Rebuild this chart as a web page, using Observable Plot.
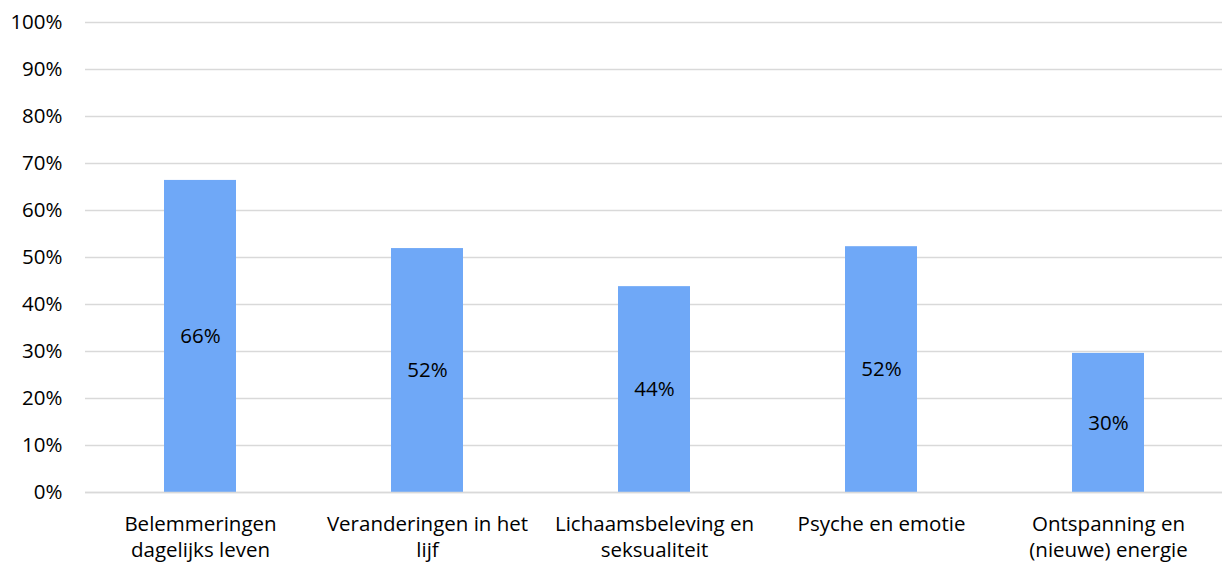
<!DOCTYPE html>
<html>
<head>
<meta charset="utf-8">
<script src="https://cdn.jsdelivr.net/npm/d3@7"></script>
<script src="https://cdn.jsdelivr.net/npm/@observablehq/plot@0.6"></script>
<style>
  html, body { margin: 0; padding: 0; background: #fff; }
  #chart svg { display: block; }
</style>
</head>
<body>
<div id="chart"></div>
<script>
const categories = [
  "Belemmeringen\ndagelijks leven",
  "Veranderingen in het\nlijf",
  "Lichaamsbeleving en\nseksualiteit",
  "Psyche en emotie",
  "Ontspanning en\n(nieuwe) energie"
];
const values = [0.664, 0.519, 0.438, 0.523, 0.296];
const yTicks = [0, 0.1, 0.2, 0.3, 0.4, 0.5, 0.6, 0.7, 0.8, 0.9, 1.0];

const data = categories.map((c, i) => ({cat: c, v: values[i]}));
const pct = d3.format(".0%");
const FS = 20.5;

const chart = Plot.plot({
  width: 1222,
  height: 566,
  marginLeft: 85,
  marginRight: 0,
  marginTop: 22,
  marginBottom: 74,
  style: {fontFamily: "'Open Sans', 'Noto Sans', sans-serif", fontSize: FS + "px", color: "#000", background: "#fff"},
  x: {domain: categories, paddingInner: 0.683, paddingOuter: 0.3415, label: null},
  y: {domain: [0, 1], label: null},
  marks: [
    Plot.gridY(yTicks, {stroke: "#d9d9d9", strokeOpacity: 1, strokeWidth: 1.5}),
    Plot.barY(data, {x: "cat", y: "v", fill: "#6fa8f7"}),
    Plot.text(data, {x: "cat", y: d => d.v / 2, text: d => pct(d.v), fill: "#000", fontSize: FS}),
    Plot.axisY(yTicks, {tickSize: 0, tickPadding: 23, tickFormat: pct, fill: "#000", fontSize: FS}),
    Plot.axisX({tickSize: 0, tickPadding: 20, lineHeight: 1.27, fill: "#000", fontSize: FS}),
    Plot.ruleY([0], {stroke: "#d9d9d9", strokeWidth: 1.5})
  ]
});
document.getElementById("chart").appendChild(chart);
</script>
</body>
</html>
